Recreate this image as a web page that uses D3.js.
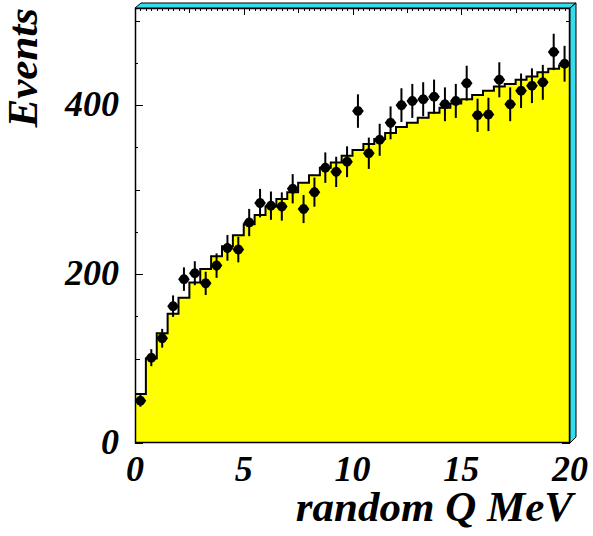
<!DOCTYPE html>
<html>
<head>
<meta charset="utf-8">
<script src="https://cdn.jsdelivr.net/npm/d3@7"></script>
<style>
  html, body { margin: 0; padding: 0; background: #fff; }
  svg { display: block; }
  text { font-family: "Liberation Serif", "Times New Roman", serif; font-weight: bold; font-style: italic; fill: #000; }
</style>
</head>
<body>
<svg id="chart" width="593" height="536"></svg>
<script>
// Bin edges: 40 bins of 0.5 MeV from 0 to 20
const binLow = d3.range(0, 20, 0.5);
// Histogram (yellow, expected shape) contents per bin
const histValues = [58, 100, 130, 153, 172, 190, 206, 221, 233, 246,
                    259, 270, 280, 289, 297, 308, 317, 326, 332, 340,
                    347, 354, 360, 367, 374, 379, 385, 391, 397, 402,
                    407, 412, 417, 422, 425, 430, 434, 439, 443, 447];
// Data points (black markers) per bin
const dataValues = [50, 101, 124, 162, 194, 201, 189, 210, 231, 229,
                    261, 284, 281, 280, 301, 277, 297, 326, 321, 333,
                    393, 343, 359, 379, 400, 405, 407, 410, 401, 405,
                    426, 388, 389, 430, 401, 417, 423, 427, 463, 449];
const xTickLabels = [0, 5, 10, 15, 20];
const yTickLabels = [0, 200, 400];
const xTitle = "random Q MeV";
const yTitle = "Events";

const svg = d3.select("#chart");
const L = 135, R = 570, T = 8, B = 443, bevel = 6;
const x = d3.scaleLinear().domain([0, 20]).range([L, R]);
const y = d3.scaleLinear().domain([0, 515]).range([B, T]);
const binW = 0.5;

// plot background
svg.append("rect").attr("x", L).attr("y", T).attr("width", R - L).attr("height", B - T).attr("fill", "#fff");

// ticks (drawn before the fill so the fill hides those underneath it)
const ticks = svg.append("g").attr("stroke", "#000").attr("stroke-width", 1).attr("shape-rendering", "crispEdges");
// left & right axis ticks
d3.range(0, 515, 50).forEach(v => {
  const len = (v % 200 === 0) ? 8 : (v % 100 === 0 ? 4.5 : 3);
  ticks.append("line").attr("x1", L).attr("x2", L + len).attr("y1", Math.round(y(v)) + 0.5).attr("y2", Math.round(y(v)) + 0.5);
  ticks.append("line").attr("x1", R).attr("x2", R - len).attr("y1", Math.round(y(v)) + 0.5).attr("y2", Math.round(y(v)) + 0.5);
});
// top & bottom axis ticks
d3.range(0, 20.001, 0.25).forEach(v => {
  const len = (Math.abs(v % 5) < 1e-9) ? 7 : (Math.abs(v % 2.5) < 1e-9 ? 4.5 : 2.5);
  const px = Math.round(x(v)) + 0.5;
  ticks.append("line").attr("x1", px).attr("x2", px).attr("y1", T).attr("y2", T + len);
  ticks.append("line").attr("x1", px).attr("x2", px).attr("y1", B).attr("y2", B - len);
});

// histogram fill + outline
const pts = [];
binLow.forEach((b, i) => {
  pts.push([x(b), y(histValues[i])]);
  pts.push([x(b + binW), y(histValues[i])]);
});
const area = d3.area().x(d => d[0]).y0(B).y1(d => d[1]).curve(d3.curveLinear);
svg.append("path").datum(pts).attr("d", area).attr("fill", "#ffff00").attr("stroke", "none");
// step outline
let dStep = `M${x(0)},${y(histValues[0])}`;
binLow.forEach((b, i) => {
  dStep += `L${x(b)},${y(histValues[i])}L${x(b + binW)},${y(histValues[i])}`;
});
svg.append("path").attr("d", dStep).attr("fill", "none").attr("stroke", "#000").attr("stroke-width", 2);

// data points with sqrt(N) error bars
const g = svg.append("g");
dataValues.forEach((v, i) => {
  const cx = x(binLow[i] + binW / 2);
  const e = Math.sqrt(v);
  g.append("line").attr("x1", cx).attr("x2", cx).attr("y1", y(v - e)).attr("y2", y(v + e))
    .attr("stroke", "#000").attr("stroke-width", 2);
  g.append("path").attr("transform", `translate(${cx},${y(v)})`)
    .attr("d", "M-5.8,0 L-3,-4 L0,-5.3 L3,-4 L5.8,0 L3,4 L0,5.3 L-3,4 Z")
    .attr("fill", "#000");
});

// frame
svg.append("rect").attr("x", L + 0.5).attr("y", T + 0.5).attr("width", R - L - 1).attr("height", B - T - 1)
  .attr("fill", "none").attr("stroke", "#000").attr("stroke-width", 1.5);

// cyan bevel (3D frame)
const cyan = "#33ddee";
svg.append("path").attr("d", `M${L},${T} L${L + bevel},${T - bevel + 1} L${R + bevel},${T - bevel + 1} L${R},${T} Z`)
  .attr("fill", cyan).attr("stroke", "#000").attr("stroke-width", 1);
svg.append("path").attr("d", `M${R},${T} L${R + bevel},${T - bevel + 1} L${R + bevel},${B - bevel} L${R},${B} Z`)
  .attr("fill", cyan).attr("stroke", "#000").attr("stroke-width", 1);

// x tick labels
xTickLabels.forEach(v => {
  svg.append("text").attr("x", x(v)).attr("y", 481).attr("text-anchor", "middle")
    .attr("font-size", 36).text(v);
});
// y tick labels
yTickLabels.forEach(v => {
  svg.append("text").attr("x", 119).attr("y", y(v) + 11).attr("text-anchor", "end")
    .attr("font-size", 36).text(v);
});
// axis titles
svg.append("text").attr("x", 573).attr("y", 521).attr("text-anchor", "end")
  .attr("font-size", 43).text(xTitle);
svg.append("text").attr("transform", "translate(37,8) rotate(-90)").attr("text-anchor", "end")
  .attr("font-size", 43).text(yTitle);
</script>
</body>
</html>
